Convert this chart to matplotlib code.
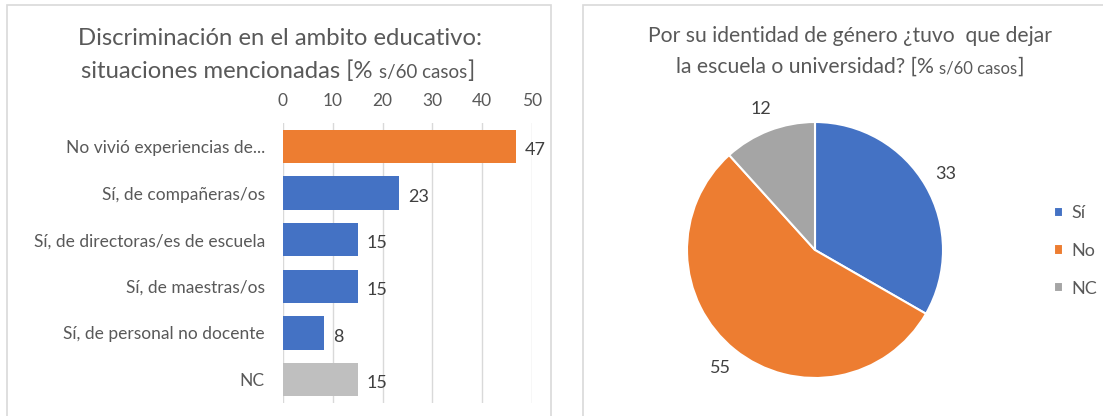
import numpy as np
import matplotlib.pyplot as plt
from matplotlib.patches import Rectangle

plt.rcParams.update({
    'font.family': ['Lato', 'DejaVu Sans'],
    'text.color': '#595959',
    'axes.labelcolor': '#595959',
    'xtick.color': '#595959',
    'ytick.color': '#595959',
})

# datos - barras (% sobre 60 casos)
categorias = ['No vivió experiencias de...', 'Sí, de compañeras/os',
              'Sí, de directoras/es de escuela', 'Sí, de maestras/os',
              'Sí, de personal no docente', 'NC']
valores = [46.7, 23.3, 15.0, 15.0, 8.3, 15.0]
colores_barras = ['#ed7d31', '#4472c4', '#4472c4', '#4472c4', '#4472c4', '#bfbfbf']
ticks_x = [0, 10, 20, 30, 40, 50]

# datos - torta
torta_labels = ['Sí', 'No', 'NC']
torta_valores = [33.3, 55.0, 11.7]
torta_colores = ['#4472c4', '#ed7d31', '#a5a5a5']

W, H = 1103, 416
fig = plt.figure(figsize=(W / 100, H / 100), dpi=100, facecolor='white')


def px(x0, y0, w, h):
    """rect en pixeles (origen arriba-izq) -> coords de figura"""
    return [x0 / W, 1 - (y0 + h) / H, w / W, h / H]


# marcos de los paneles
for x0, y0, x1, y1 in [(7, 5, 551, 430), (583, 5, 1120, 430)]:
    fig.patches.append(Rectangle((x0 / W, 1 - y1 / H), (x1 - x0) / W, (y1 - y0) / H,
                                 transform=fig.transFigure, fill=False,
                                 edgecolor='#d9d9d9', linewidth=1.2))


def titulo_mixto(cx, cy, partes):
    """texto centrado con segmentos de distinto tamaño (baseline comun)"""
    r = fig.canvas.get_renderer()
    textos = [fig.text(0, 0, s, fontsize=fs, va='baseline', ha='left') for s, fs in partes]
    anchos = [t.get_window_extent(r).width for t in textos]
    x = cx - sum(anchos) / 2
    for t, w in zip(textos, anchos):
        t.set_position((x / W, 1 - cy / H))
        x += w


# --- barras ---
ax = fig.add_axes(px(283, 123, 249, 280))
y = np.arange(len(categorias))
ax.barh(y, valores, height=0.72, color=colores_barras, zorder=3)
ax.set_xlim(0, 50)
ax.set_ylim(len(categorias) - 0.5, -0.5)
ax.set_xticks(ticks_x)
ax.xaxis.tick_top()
ax.tick_params(axis='x', length=0, labelsize=12.5, pad=10)
ax.set_yticks(y)
ax.set_yticklabels(categorias, fontsize=12.5)
ax.tick_params(axis='y', length=0, pad=13)
ax.grid(axis='x', color='#d9d9d9', linewidth=1, zorder=0)
for s in ax.spines.values():
    s.set_visible(False)
for yi, v in zip(y, valores):
    ax.text(v + 1.8, yi + 0.08, f'{v:.0f}', va='center', ha='left',
            fontsize=13, color='#404040')

titulo_mixto(280, 45, [('Discriminación en el ambito educativo:', 17.2)])
titulo_mixto(278, 78, [('situaciones mencionadas [% ', 17.2), ('s/60 casos', 13.5), (']', 17.2)])

# --- torta ---
axp = fig.add_axes(px(815 - 128, 250 - 128, 256, 256))
wedges, _, autot = axp.pie(torta_valores, colors=torta_colores, startangle=90,
                           counterclock=False, autopct='%.0f', pctdistance=1.18,
                           wedgeprops=dict(edgecolor='white', linewidth=1.5),
                           textprops=dict(fontsize=13, color='#404040'))
axp.set_xlim(-1, 1)
axp.set_ylim(-1, 1)
axp.set_aspect('equal')

titulo_mixto(850, 42, [('Por su identidad de género ¿tuvo  que dejar', 15.2)])
titulo_mixto(850, 73, [('la escuela o universidad? [% ', 15.2), ('s/60 casos', 12), (']', 15.2)])

fig.legend(wedges, torta_labels, loc='center left', bbox_to_anchor=(1054 / W, 1 - 251 / H),
           frameon=False, fontsize=13, handlelength=0.5, handleheight=0.5,
           handletextpad=0.45, labelspacing=1.2, labelcolor='#595959',
           borderpad=0, borderaxespad=0)

fig.savefig('out.png', dpi=100, facecolor='white')
